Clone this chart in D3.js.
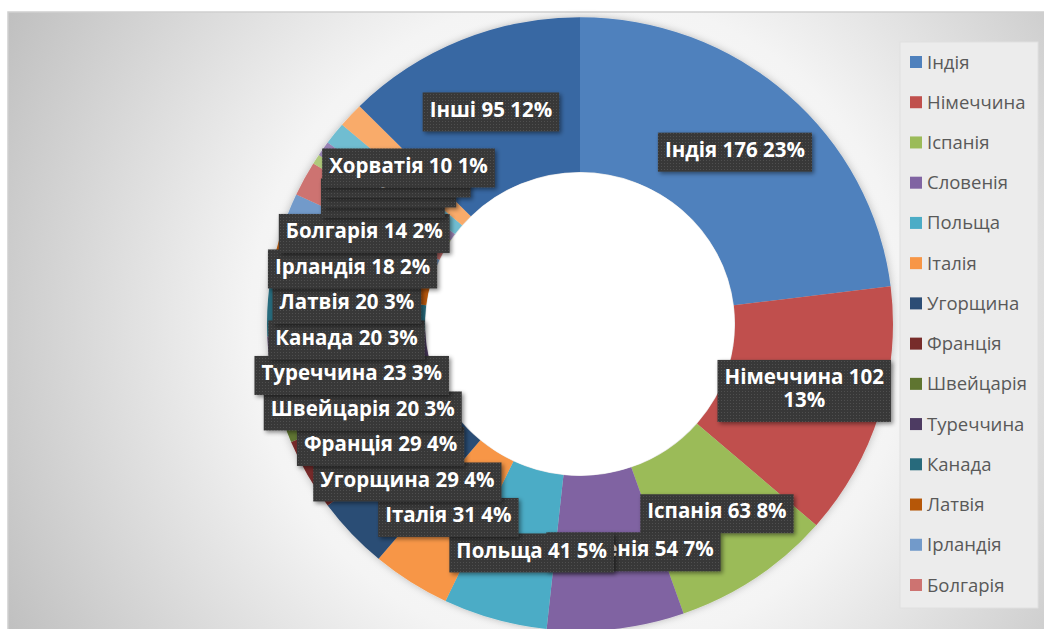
<!DOCTYPE html>
<html>
<head>
<meta charset="utf-8">
<script src="https://cdn.jsdelivr.net/npm/d3@7"></script>
<style>
  html, body { margin: 0; padding: 0; background: #ffffff; }
  svg { display: block; }
</style>
</head>
<body>
<svg id="chart" width="1044" height="629"></svg>
<script>
// Countries and number of participants
const countries = ["Індія", "Німеччина", "Іспанія", "Словенія", "Польща", "Італія", "Угорщина",
  "Франція", "Швейцарія", "Туреччина", "Канада", "Латвія", "Ірландія", "Болгарія",
  "Чехія", "Литва", "Австрія", "Хорватія", "Інші"];
const counts = [176, 102, 63, 54, 41, 31, 29, 29, 20, 23, 20, 20, 18, 14, 4, 6, 9, 10, 95];
const sliceColors = ["#4F81BD", "#C0504D", "#9BBB59", "#8064A2", "#4BACC6", "#F79646", "#2C4D75",
  "#772C2A", "#5F7530", "#4D3B62", "#276A7C", "#B65708", "#729ACA", "#CD7371",
  "#AFC97A", "#9983B5", "#6FBDD1", "#F9AB6B", "#3867A3"];
const legendCount = 14;

const svg = d3.select("#chart");
const W = 1044, H = 629;
const cx = 580, cy = 324;
const outerR = 313, innerR = 155, yScale = 0.98;
const labelR = (outerR + innerR) / 2;
const fontStack = "'Open Sans', 'Noto Sans', sans-serif";

const defs = svg.append("defs");
const bg = defs.append("radialGradient").attr("id", "bg")
  .attr("gradientUnits", "userSpaceOnUse").attr("cx", cx).attr("cy", cy).attr("r", 660);
bg.append("stop").attr("offset", 0).attr("stop-color", "#ffffff");
bg.append("stop").attr("offset", 0.5).attr("stop-color", "#f4f4f4");
bg.append("stop").attr("offset", 1).attr("stop-color", "#bebebe");

const pat = defs.append("pattern").attr("id", "dots").attr("patternUnits", "userSpaceOnUse")
  .attr("width", 3).attr("height", 3);
pat.append("rect").attr("width", 3).attr("height", 3).attr("fill", "#383838");
pat.append("rect").attr("x", 1).attr("y", 1).attr("width", 1).attr("height", 1).attr("fill", "#505050");

const ringShadow = defs.append("filter").attr("id", "ringShadow")
  .attr("x", "-20%").attr("y", "-20%").attr("width", "140%").attr("height", "140%");
ringShadow.append("feDropShadow").attr("dx", 0).attr("dy", 0).attr("stdDeviation", 4)
  .attr("flood-color", "#000").attr("flood-opacity", 0.25);

const boxShadow = defs.append("filter").attr("id", "boxShadow")
  .attr("x", "-20%").attr("y", "-30%").attr("width", "140%").attr("height", "170%");
boxShadow.append("feDropShadow").attr("dx", 2).attr("dy", 2).attr("stdDeviation", 2)
  .attr("flood-color", "#000").attr("flood-opacity", 0.45);

// chart area
svg.append("rect").attr("x", 8).attr("y", 12).attr("width", W).attr("height", H)
  .attr("fill", "url(#bg)").attr("stroke", "#cfcfcf").attr("stroke-width", 1.5);

// donut
const pie = d3.pie().sort(null).value(d => d)(counts);
const arc = d3.arc().innerRadius(innerR).outerRadius(outerR);

const ring = svg.append("g")
  .attr("transform", `translate(${cx},${cy}) scale(1,${yScale})`)
  .attr("filter", "url(#ringShadow)");
ring.selectAll("path").data(pie).join("path")
  .attr("d", arc)
  .attr("fill", (d, i) => sliceColors[i]);

// hole
svg.append("ellipse").attr("cx", cx).attr("cy", cy).attr("rx", innerR - 0.5).attr("ry", (innerR - 0.5) * yScale)
  .attr("fill", "#ffffff");

// data labels: start at the ring's mid radius and push down to avoid overlap.
// Pushed labels and labels in the lower half sit on the mid-radius circle at their height.
// Labels of very thin slices collapse into a tight stack under the previous one.
const total = d3.sum(counts);
const labels = pie.map((d, i) => {
  const a = (d.startAngle + d.endAngle) / 2;
  const pct = `${Math.round(counts[i] / total * 100)}%`;
  return {
    i, a,
    share: counts[i] / total,
    x: cx + labelR * Math.sin(a),
    y: cy - labelR * yScale * Math.cos(a),
    text: `${countries[i]} ${counts[i]} ${pct}`,
    name: `${countries[i]} ${counts[i]}`,
    pct
  };
});
function sweep(list, side) {
  let prev = null;
  list.forEach(l => {
    let pushed = false;
    if (prev) {
      const tinyRun = prev.share < 0.015 && l.share < 0.015;
      const y = tinyRun ? prev.y + 10 : Math.max(l.y, prev.y + 35.5);
      pushed = y !== l.y;
      l.y = y;
    }
    if (pushed || l.y > cy) {
      const dy = Math.min(Math.abs(l.y - cy), labelR);
      l.x = cx + side * Math.sqrt(labelR * labelR - dy * dy);
    }
    prev = l;
  });
}
sweep(labels.filter(l => l.a < Math.PI).sort((a, b) => a.y - b.y), 1);
sweep(labels.filter(l => l.a >= Math.PI).sort((a, b) => b.i - a.i), -1);

const fontSize = 20.5, padX = 7, lineH = 23, padY = 8;
const labelLayer = svg.append("g");
labels.forEach(l => {
  const g = labelLayer.append("g");
  const rect = g.append("rect").attr("fill", "url(#dots)").attr("filter", "url(#boxShadow)");
  const t = g.append("text").attr("fill", "#ffffff").attr("font-weight", "bold")
    .attr("font-family", fontStack).attr("font-size", fontSize)
    .attr("text-anchor", "middle");
  t.append("tspan").attr("x", l.x).text(l.text);
  let w = t.node().getComputedTextLength();
  let lines = [l.text];
  if (l.x + w / 2 + padX > 898) {
    lines = [l.name, l.pct];
    t.selectAll("tspan").remove();
    lines.forEach(s => t.append("tspan").attr("x", l.x).text(s));
    w = d3.max(t.selectAll("tspan").nodes(), n => n.getComputedTextLength());
  }
  const h = lines.length * lineH + 2 * padY;
  t.selectAll("tspan").attr("y", (d, k) => l.y - h / 2 + padY + lineH * k + lineH * 0.70);
  rect.attr("x", l.x - w / 2 - padX).attr("y", l.y - h / 2).attr("width", w + 2 * padX).attr("height", h);
});

// legend
const lg = svg.append("g");
lg.append("rect").attr("x", 900).attr("y", 42).attr("width", 138).attr("height", 566)
  .attr("fill", "#ececec").attr("stroke", "#e0e0e0");
const ly = d3.scalePoint().domain(d3.range(legendCount)).range([62, 585]);
const items = lg.selectAll("g.item").data(countries.slice(0, legendCount)).join("g")
  .attr("class", "item")
  .attr("transform", (d, i) => `translate(910,${ly(i)})`);
items.append("rect").attr("x", 0).attr("y", -6).attr("width", 12).attr("height", 12)
  .attr("fill", (d, i) => sliceColors[i]);
items.append("text").attr("x", 17).attr("y", 6.5)
  .attr("font-family", fontStack).attr("font-size", 18.5)
  .attr("fill", "#595959").text(d => d);
</script>
</body>
</html>
